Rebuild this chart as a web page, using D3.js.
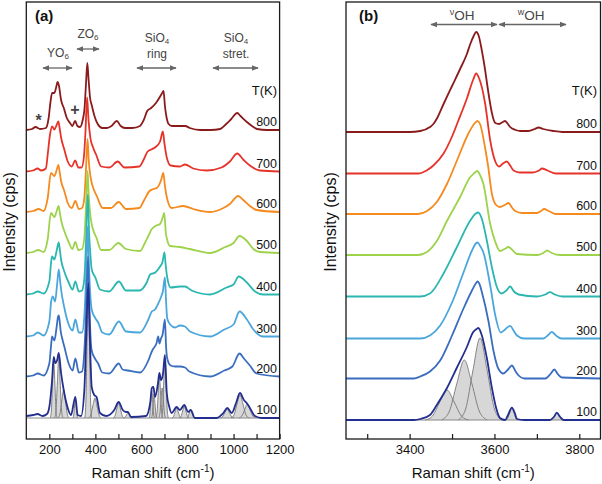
<!DOCTYPE html>
<html><head><meta charset="utf-8">
<script src="https://cdn.jsdelivr.net/npm/d3@7"></script>
<style>body{margin:0;background:#fff} svg{display:block} text{font-family:"Liberation Sans",Arial,sans-serif}</style>
</head><body><svg id="c" width="602" height="484"></svg>
<script>
// ---------------- data ----------------
const temps = ["800","700","600","500","400","300","200","100"];
const offsets = [288, 246.5, 206, 165, 123.5, 81.5, 41.5, 0];
const ticksA = [200,300,400,500,600,700,800,900,1000,1100,1200];
const tickLabelsA = [200,400,600,800,1000,1200];
const ticksB = [3300,3400,3500,3600,3700,3800];
const tickLabelsB = [3400,3600,3800];

// panel (a): [Raman shift, intensity above own baseline]
const specA800 = [[100,0],[125,1],[140,3],[160,1],[185,2],[197,12],[205,28],[212,37],[222,37],[229,42],[236,48],[242,44],[251,30],[263,22],[276,12],[290,7],[300,4],[312,9],[322,4],[333,3],[345,10],[353,22],[359,45],[365,67],[370,52],[377,32],[384,25],[396,14],[410,6],[430,2],[450,2],[470,4],[493,9],[510,4],[529,2],[560,2],[594,4],[610,10],[625,19],[642,22],[663,27],[680,33],[690,37],[696,39],[702,24],[708,14],[718,6],[732,4],[760,4],[790,4],[810,2],[855,0],[900,0],[942,1],[968,6],[990,11],[1016,17],[1030,14],[1058,8],[1080,4],[1102,1],[1145,0],[1200,0]];
const specA700 = [[100,0],[130,1],[149,3],[165,1],[185,3],[193,17],[203,37],[212,45],[222,42],[231,46],[239,50],[245,43],[251,34],[265,22],[280,10],[298,5],[312,11],[326,4],[340,4],[350,14],[357,40],[364,74],[370,52],[378,34],[390,24],[403,17],[425,5],[461,4],[497,10],[526,4],[591,5],[610,12],[627,20],[659,24],[681,30],[693,40],[700,28],[710,14],[727,6],[767,5],[789,7],[825,3],[883,1],[948,4],[984,10],[1016,18],[1042,12],[1071,6],[1115,1],[1200,0]];
const specA600 = [[100,0],[130,1],[154,3],[175,1],[193,14],[207,39],[222,36],[232,42],[239,47],[245,40],[251,31],[265,21],[280,9],[298,4],[313,11],[328,3],[342,4],[352,14],[359,42],[366,73],[371,52],[379,35],[388,26],[406,16],[432,4],[468,4],[501,10],[533,3],[591,4],[612,12],[635,21],[652,23],[667,24],[684,31],[695,39],[702,26],[712,13],[731,4],[782,6],[825,3],[898,0],[956,4],[984,8],[1020,16],[1042,12],[1071,6],[1100,2],[1200,0]];
const specA500 = [[100,0],[130,1],[152,3],[175,1],[193,14],[207,40],[222,36],[232,42],[240,47],[246,40],[252,32],[265,22],[284,11],[300,4],[313,11],[326,3],[342,4],[352,15],[359,45],[366,82],[371,58],[379,36],[388,25],[405,15],[425,3],[460,3],[500,10],[533,4],[594,2],[615,10],[630,17],[645,24],[660,27],[681,29],[693,36],[699,40],[706,20],[712,13],[724,7],[767,6],[811,4],[898,0],[964,6],[1000,10],[1026,17],[1058,12],[1086,4],[1115,1],[1200,0]];
const specA400 = [[100,0],[130,1],[150,3],[175,1],[200,13],[208,33],[212,38],[222,35],[232,44],[241,52],[246,44],[251,35],[265,23],[284,12],[301,5],[313,13],[328,3],[342,4],[352,16],[359,50],[367,100],[373,60],[379,38],[384,25],[400,17],[420,5],[460,3],[502,13],[533,4],[591,4],[623,12],[638,20],[660,22],[681,28],[691,32],[700,42],[705,30],[712,17],[727,7],[767,8],[789,8],[818,4],[898,0],[970,7],[1000,10],[1022,18],[1058,12],[1093,3],[1129,0],[1200,0]];
const specA300 = [[100,0],[130,1],[150,4],[175,1],[200,15],[208,35],[215,40],[225,35],[233,50],[241,67],[247,55],[251,47],[265,29],[284,12],[301,6],[313,17],[328,4],[342,4],[352,20],[359,55],[367,110],[373,65],[380,35],[384,27],[398,19],[412,14],[430,4],[460,2],[502,15],[533,5],[594,4],[630,17],[645,25],[659,27],[675,34],[686,40],[693,45],[702,59],[707,35],[712,18],[725,12],[746,9],[767,11],[789,10],[811,5],[898,0],[960,7],[1000,12],[1026,25],[1058,17],[1086,7],[1129,0],[1200,0]];
const specA200 = [[100,0],[130,1],[150,3],[175,1],[200,13],[208,32],[212,40],[222,36],[232,50],[238,60],[241,61],[245,55],[249,46],[256,38],[265,30],[284,13],[301,6],[313,18],[328,4],[342,5],[352,25],[359,60],[368,120],[374,70],[380,35],[384,26],[398,18],[412,13],[430,4],[460,3],[502,13],[518,7],[541,6],[594,4],[630,16],[645,25],[652,28],[665,33],[673,40],[678,33],[685,38],[692,42],[702,57],[707,30],[712,18],[727,11],[746,10],[767,10],[789,9],[808,5],[898,0],[960,6],[995,10],[1026,23],[1045,18],[1071,11],[1100,3],[1200,0]];
const specA100 = [[100,2],[130,3],[149,4],[170,2],[190,4],[200,11],[212,38],[219,61],[226,55],[234,58],[241,65],[251,45],[261,30],[280,10],[294,3],[313,21],[323,3],[338,2],[352,28],[360,80],[369,135],[376,80],[384,31],[395,23],[405,21],[420,5],[446,2],[482,8],[501,16],[519,8],[533,6],[541,6],[555,1],[620,2],[638,15],[645,30],[652,31],[659,21],[672,35],[678,45],[685,38],[694,45],[702,63],[710,25],[721,11],[731,5],[753,11],[767,8],[786,13],[803,6],[814,8],[832,0],[927,0],[956,5],[973,10],[992,5],[1011,15],[1028,25],[1045,18],[1057,15],[1071,10],[1093,2],[1122,0],[1200,0]];

// panel (b)
const specB800 = [[3250,0],[3400,0],[3425,1],[3448,5],[3456,8],[3465,14],[3480,28],[3500,46],[3519,63],[3535,78],[3543,88],[3551,96],[3557,100],[3563,96],[3570,82],[3578,62],[3582,50],[3590,28],[3594,19],[3602,9],[3611,8],[3620,10],[3625,11],[3630,9],[3637,5],[3650,2],[3661,1],[3680,1],[3695,3],[3704,4.5],[3715,3],[3739,1],[3760,0],[3850,0]];
const specB700 = [[3250,0],[3420,0],[3440,3],[3456,8],[3480,20],[3500,37],[3515,53],[3535,75],[3550,94],[3557,100],[3564,95],[3578,70],[3590,33],[3602,12],[3611,7],[3620,10],[3629,12],[3637,8],[3645,3],[3660,1],[3690,1],[3705,3],[3712,5],[3725,3],[3745,0],[3850,0]];
const specB600 = [[3250,0],[3420,0],[3441,3],[3464,12],[3488,30],[3515,57],[3538,80],[3552,90],[3560,93],[3566,90],[3578,66],[3585,48],[3594,20],[3604,9],[3613,7],[3624,9],[3633,11],[3642,6],[3649,3],[3665,1],[3700,1],[3710,3],[3717,5],[3728,3],[3745,0],[3850,0]];
const specB500 = [[3250,0],[3420,0],[3441,3],[3464,14],[3488,34],[3519,58],[3543,78],[3553,82],[3559,84],[3566,80],[3574,71],[3590,31],[3602,13],[3613,4],[3624,6],[3633,8],[3640,6],[3653,1],[3700,0],[3715,2],[3724,4.5],[3735,2],[3755,0],[3850,0]];
const specB400 = [[3250,0],[3425,0],[3448,3],[3480,23],[3511,49],[3543,76],[3556,83],[3562,84],[3570,78],[3582,56],[3594,29],[3606,9],[3617,3],[3628,6],[3637,10],[3646,5],[3657,2],[3700,0],[3720,2],[3731,4.3],[3742,2],[3760,0],[3850,0]];
const specB300 = [[3250,0],[3425,0],[3448,3],[3472,13],[3500,36],[3527,66],[3547,88],[3556,95],[3560,96],[3567,92],[3574,86],[3590,53],[3602,23],[3615,6],[3625,9],[3637,12.7],[3645,8],[3653,3],[3670,0],[3715,0],[3728,4],[3735,6.7],[3745,3],[3758,0],[3850,0]];
const specB200 = [[3250,0],[3410,0],[3425,2],[3448,7],[3472,18],[3500,43],[3527,70],[3547,88],[3556,95],[3560,97],[3566,93],[3570,87],[3586,57],[3598,27],[3609,10],[3621,5],[3632,9],[3641,13],[3650,7],[3657,3],[3670,0],[3720,0],[3733,5],[3741,9],[3750,4],[3759,1],[3850,0]];
const specB100 = [[3250,0],[3410,0],[3425,1],[3448,5],[3464,15],[3488,32],[3511,52],[3535,73],[3550,88],[3558,91],[3562,92],[3570,85],[3582,62],[3594,32],[3604,12],[3613,2],[3625,0],[3632,5],[3641,12.3],[3648,7],[3653,1],[3670,0],[3730,0],[3740,3],[3747,7.3],[3755,3],[3763,0],[3850,0]];

// fitted components of the 100 K spectra
const fitA100 = [
 [[204,0],[209,8],[214,35],[219,58],[224,35],[229,8],[234,0]],
 [[223,0],[229,8],[235,36],[241,60],[247,36],[253,8],[259,0]],
 [[238,0],[246,4],[254,17],[262,28],[270,17],[278,4],[286,0]],
 [[302,0],[306,3],[309.5,12],[313,20],[316.5,12],[320,3],[324,0]],
 [[354,0],[359,18],[364,78],[369,130],[374,78],[379,18],[384,0]],
 [[371,0],[380,3],[389,12],[398,20],[407,12],[416,3],[425,0]],
 [[477,0],[485,2],[493,9],[501,15],[509,9],[517,2],[525,0]],
 [[523,0],[529,0.7],[535,3],[541,5],[547,3],[553,0.7],[559,0]],
 [[633,0],[637,4],[641,17],[645,28],[649,17],[653,4],[657,0]],
 [[643,0],[647,3],[651,14],[655,24],[659,14],[663,3],[667,0]],
 [[663,0],[668,6],[673,25],[678,42],[683,25],[688,6],[693,0]],
 [[675,0],[680,4],[685,18],[690,30],[695,18],[700,4],[705,0]],
 [[687,0],[692,8],[697,36],[702,60],[707,36],[712,8],[717,0]],
 [[732,0],[739,1.4],[746,6],[753,10],[760,6],[767,1.4],[774,0]],
 [[765,0],[772,1.6],[779,7],[786,12],[793,7],[800,1.6],[807,0]],
 [[796,0],[802,1],[808,5],[814,8],[820,5],[826,1],[832,0]],
 [[942,0],[952,1.2],[962,5.4],[972,9],[982,5.4],[992,1.2],[1002,0]],
 [[989,0],[1002,3],[1015,14],[1028,23],[1041,14],[1054,3],[1067,0]],
 [[1024,0],[1036,2],[1048,8],[1060,14],[1072,8],[1084,2],[1096,0]]
];
const fitB100 = [
 [[3437,0],[3454,4],[3471,18],[3488,30],[3505,18],[3522,4],[3539,0]],
 [[3475,0],[3493,8],[3511,36],[3529,60],[3547,36],[3565,8],[3583,0]],
 [[3515,0],[3532,11],[3549,49],[3566,82],[3583,49],[3600,11],[3617,0]],
 [[3626,0],[3631,1.6],[3636,7],[3641,12],[3646,7],[3651,1.6],[3656,0]],
 [[3732,0],[3737,1],[3742,4],[3747,7],[3752,4],[3757,1],[3762,0]]
];

const spectraA = [specA800,specA700,specA600,specA500,specA400,specA300,specA200,specA100];
const spectraB = [specB800,specB700,specB600,specB500,specB400,specB300,specB200,specB100];

// ---------------- drawing ----------------
const colors = ["#8a1b1c","#e6332a","#f58a1f","#9dd24b","#2bb6b0","#4ba6dc","#3a6dbf","#232f8e"];
const svg = d3.select("#c");
const defs = svg.append("defs");
defs.append("marker").attr("id","ah").attr("viewBox","0 0 10 10").attr("refX",9).attr("refY",5)
  .attr("markerWidth",7).attr("markerHeight",7).attr("markerUnits","userSpaceOnUse").attr("orient","auto-start-reverse")
  .append("path").attr("d","M0,1 L10,5 L0,9 Z").attr("fill","#666");

const xA = d3.scaleLinear().domain([100,1200]).range([26.3,279.6]);
const yA = d3.scaleLinear().domain([-21,416]).range([439,2]);
const xB = d3.scaleLinear().domain([3250,3850]).range([346,600.5]);
const yB = d3.scaleLinear().domain([-19,418]).range([439,2]);

function panel(x, y, spectra, fits, ticks, tickLabels, labelRight) {
  const g = svg.append("g");
  const area = d3.area().x(d=>x(d[0])).y0(y(0)).y1(d=>y(d[1])).curve(d3.curveMonotoneX);
  const line0 = d3.line().x(d=>x(d[0])).y(d=>y(d[1])).curve(d3.curveMonotoneX);
  g.selectAll(".ff").data(fits).join("path").attr("d",area).attr("fill","#d7d7d7").attr("stroke","none");
  g.selectAll(".fo").data(fits).join("path").attr("d",line0).attr("fill","none").attr("stroke","#777").attr("stroke-width",0.9);
  g.append("line").attr("x1",x.range()[0]).attr("x2",x.range()[1]).attr("y1",y(0)).attr("y2",y(0))
    .attr("stroke","#888").attr("stroke-width",1);
  spectra.forEach((s,i)=>{
    const ln = d3.line().x(d=>x(d[0])).y(d=>y(d[1]+offsets[i])).curve(d3.curveMonotoneX);
    g.append("path").datum(s).attr("d",ln).attr("fill","none").attr("stroke",colors[i])
      .attr("stroke-width",1.8).attr("stroke-linejoin","round");
    g.append("text").attr("x",labelRight).attr("y",y(offsets[i])-4).attr("text-anchor","end")
      .attr("font-size",12.5).attr("fill","#111").text(temps[i]);
  });
  g.append("text").attr("x",labelRight).attr("y",95).attr("text-anchor","end").attr("font-size",13).attr("fill","#111").text("T(K)");
  const [x0,x1] = x.range();
  g.append("rect").attr("x",x0).attr("y",2).attr("width",x1-x0).attr("height",437)
    .attr("fill","none").attr("stroke","#1a1a1a").attr("stroke-width",1.3);
  const ax = d3.axisBottom(x).tickValues(ticks).tickSizeInner(-5).tickSizeOuter(0).tickPadding(6)
    .tickFormat(d=> tickLabels.includes(d) ? d : "");
  const ag = g.append("g").attr("transform","translate(0,439)").call(ax);
  ag.select(".domain").remove();
  ag.selectAll("line").attr("stroke","#1a1a1a").attr("stroke-width",1.2);
  ag.selectAll("text").attr("font-size",13).attr("fill","#111").attr("font-family","Liberation Sans, Arial, sans-serif");
  const xt = g.append("text").attr("x",(x0+x1)/2).attr("y",478).attr("text-anchor","middle").attr("font-size",15).attr("fill","#111");
  xt.append("tspan").text("Raman shift (cm");
  xt.append("tspan").attr("font-size",10).attr("dy",-6).text("-1");
  xt.append("tspan").attr("dy",6).text(")");
  return g;
}

panel(xA, yA, spectraA, fitA100, ticksA, tickLabelsA, 277);
panel(xB, yB, spectraB, fitB100, ticksB, tickLabelsB, 597);

[[15,"Intensity (cps)"],[336,"Intensity (cps)"]].forEach(([xx,t])=>{
  svg.append("text").attr("transform",`translate(${xx},222) rotate(-90)`).attr("text-anchor","middle")
    .attr("font-size",16).attr("fill","#111").text(t);
});

svg.append("text").attr("x",35).attr("y",21).attr("font-size",15).attr("font-weight","bold").attr("fill","#111").text("(a)");
svg.append("text").attr("x",359).attr("y",21).attr("font-size",15).attr("font-weight","bold").attr("fill","#111").text("(b)");

function sub(x, y, main, s) {
  const t = svg.append("text").attr("x",x).attr("y",y).attr("text-anchor","middle").attr("font-size",12).attr("fill","#444");
  t.append("tspan").text(main);
  t.append("tspan").attr("font-size",8).attr("dy",2).text(s);
  return t;
}
function arrow(x1, x2, y) {
  svg.append("line").attr("x1",x1).attr("x2",x2).attr("y1",y).attr("y2",y).attr("stroke","#666").attr("stroke-width",1.3)
    .attr("marker-start","url(#ah)").attr("marker-end","url(#ah)");
}
sub(88,38,"ZO","6"); arrow(77,99,49);
sub(58,57,"YO","6"); arrow(43,72,68);
sub(157,42,"SiO","4");
svg.append("text").attr("x",157).attr("y",58).attr("text-anchor","middle").attr("font-size",12).attr("fill","#444").text("ring");
arrow(137,176,68);
sub(236,42,"SiO","4");
svg.append("text").attr("x",236).attr("y",58).attr("text-anchor","middle").attr("font-size",12).attr("fill","#444").text("stret.");
arrow(213,258,68);
svg.append("text").attr("x",38.5).attr("y",126).attr("text-anchor","middle").attr("font-size",16).attr("font-weight","bold").attr("fill","#444").text("*");
svg.append("text").attr("x",75).attr("y",115).attr("text-anchor","middle").attr("font-size",16).attr("font-weight","bold").attr("fill","#444").text("+");

function supLabel(x, y, s, main) {
  const t = svg.append("text").attr("x",x).attr("y",y).attr("text-anchor","middle").attr("font-size",13.5).attr("fill","#444");
  t.append("tspan").attr("font-size",9).attr("dy",-5).text(s);
  t.append("tspan").attr("dy",5).text(main);
}
supLabel(462,20,"ν","OH");
supLabel(531,20,"w","OH");
arrow(431,497,24.5);
arrow(499,566,24.5);
</script></body></html>
